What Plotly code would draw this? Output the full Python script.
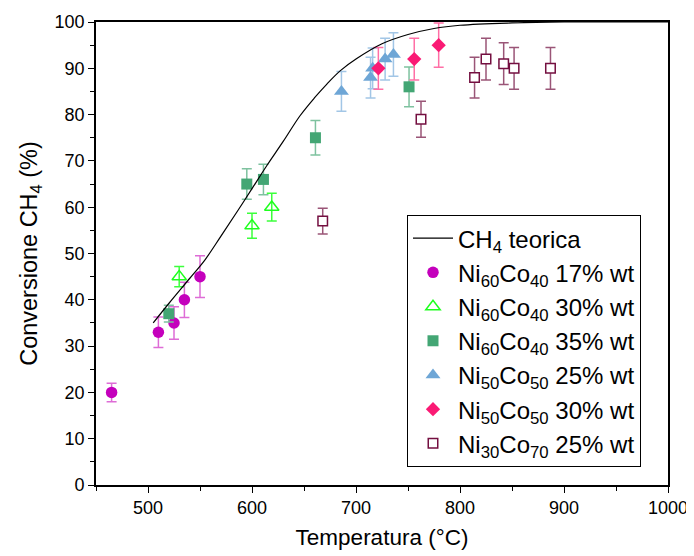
import plotly.graph_objects as go

# Theoretical curve
curve_T = [505, 520, 540, 555, 570, 585, 600, 614, 630, 646, 660, 672, 685, 700, 725, 750, 775, 800, 850, 900, 1000]
curve_X = [35, 39.2, 44.6, 48.7, 53.7, 58.8, 64.0, 68.9, 74.2, 79.7, 83.6, 86.6, 89.5, 92.0, 95.3, 97.3, 98.6, 99.3, 99.8, 100, 100]

# Ni60Co40 17% wt
s1_T = [465, 510, 525, 535, 550]
s1_X = [20, 33, 35, 40, 45]
s1_E = [2.0, 3.3, 3.5, 3.8, 4.5]

# Ni60Co40 30% wt
s2_T = [530, 600, 619]
s2_X = [45, 56, 60]
s2_E = [2.2, 2.7, 3.0]

# Ni60Co40 35% wt
s3_T = [520, 595, 611, 661, 751]
s3_X = [37, 65, 66, 75, 86]
s3_E = [1.8, 3.3, 3.3, 3.7, 4.3]

# Ni50Co50 25% wt
s4_T = [686, 714, 716, 728, 736]
s4_X = [85, 88, 90, 92, 93]
s4_E = [4.3, 4.4, 4.4, 4.5, 4.7]

# Ni50Co50 30% wt
s5_T = [721.5, 756, 779.5]
s5_X = [90, 92, 95]
s5_E = [4.5, 4.5, 4.8]

# Ni30Co70 25% wt
s6_T = [668, 762.5, 814, 825, 842, 852, 887]
s6_X = [57, 79, 88, 92, 91, 90, 90]
s6_E = [2.8, 3.9, 4.4, 4.5, 4.5, 4.5, 4.5]

names = [
    "Ni<sub>60</sub>Co<sub>40</sub> 17% wt",
    "Ni<sub>60</sub>Co<sub>40</sub> 30% wt",
    "Ni<sub>60</sub>Co<sub>40</sub> 35% wt",
    "Ni<sub>50</sub>Co<sub>50</sub> 25% wt",
    "Ni<sub>50</sub>Co<sub>50</sub> 30% wt",
    "Ni<sub>30</sub>Co<sub>70</sub> 25% wt",
]

fig = go.Figure()

def add_series(T, X, E, name, symbol, size, color, ecolor, fill=True, rank=2, lw=0):
    marker = dict(symbol=symbol, size=size, color=color if fill else "white",
                  line=dict(color=color, width=lw))
    fig.add_trace(go.Scatter(
        x=T, y=X, mode="markers", name=name, marker=marker,
        error_y=dict(type="data", array=E, visible=True, color=ecolor,
                     thickness=1.5, width=5),
        legendrank=rank,
    ))

add_series(s1_T, s1_X, s1_E, names[0], "circle", 11.5, "#C400BC", "#DE6CD6", rank=2)
add_series(s2_T, s2_X, s2_E, names[1], "triangle-up-open", 12.5, "#1EFF1E", "#3CFF3C", rank=3, lw=1.5)
add_series(s3_T, s3_X, s3_E, names[2], "square", 11, "#43A674", "#7EC29F", rank=4)
add_series(s4_T, s4_X, s4_E, names[3], "triangle-up", 13, "#6EA6D6", "#A2C6E6", rank=5)
add_series(s5_T, s5_X, s5_E, names[4], "diamond", 11, "#FA1A74", "#FF6FA6", rank=6)
add_series(s6_T, s6_X, s6_E, names[5], "square", 9.5, "#740F40", "#9A5577", fill=False, rank=7, lw=1.5)

fig.add_trace(go.Scatter(
    x=curve_T, y=curve_X, mode="lines", name="CH<sub>4</sub> teorica",
    line=dict(color="black", width=1.2, shape="spline"), legendrank=1,
))

axis_common = dict(
    showline=True, linecolor="black", linewidth=1.6, mirror=True,
    ticks="outside", ticklen=6, tickwidth=1.3, tickcolor="black",
    showgrid=False, zeroline=False, automargin=False,
    tickfont=dict(family="Liberation Sans, Arial", size=18, color="black"),
)

# The page body adds an 8px offset, so the figure is sized to fit the window
fig.update_layout(
    width=686, height=548,
    margin=dict(l=88, r=26, t=14, b=71),
    paper_bgcolor="white", plot_bgcolor="white",
    font=dict(family="Liberation Sans, Arial", color="black"),
    xaxis=dict(range=[450, 1000], dtick=100, tick0=0,
               minor=dict(dtick=50, ticks="outside", ticklen=4, tickcolor="black", tickwidth=1.2),
               title=dict(text="Temperatura (°C)", font=dict(size=22.5), standoff=12),
               **axis_common),
    yaxis=dict(range=[0, 100], dtick=10, tick0=0,
               minor=dict(dtick=5, ticks="outside", ticklen=4, tickcolor="black", tickwidth=1.2),
               title=dict(text="Conversione CH<sub>4</sub> (%)", font=dict(size=23.5), standoff=10),
               **axis_common),
    legend=dict(x=0.5437, y=0.583, xanchor="left", yanchor="top",
                bordercolor="black", borderwidth=1, bgcolor="white",
                font=dict(size=24, family="Liberation Sans, Arial"),
                tracegroupgap=0, itemwidth=40),
    showlegend=True,
)

fig.write_html("out.html")
